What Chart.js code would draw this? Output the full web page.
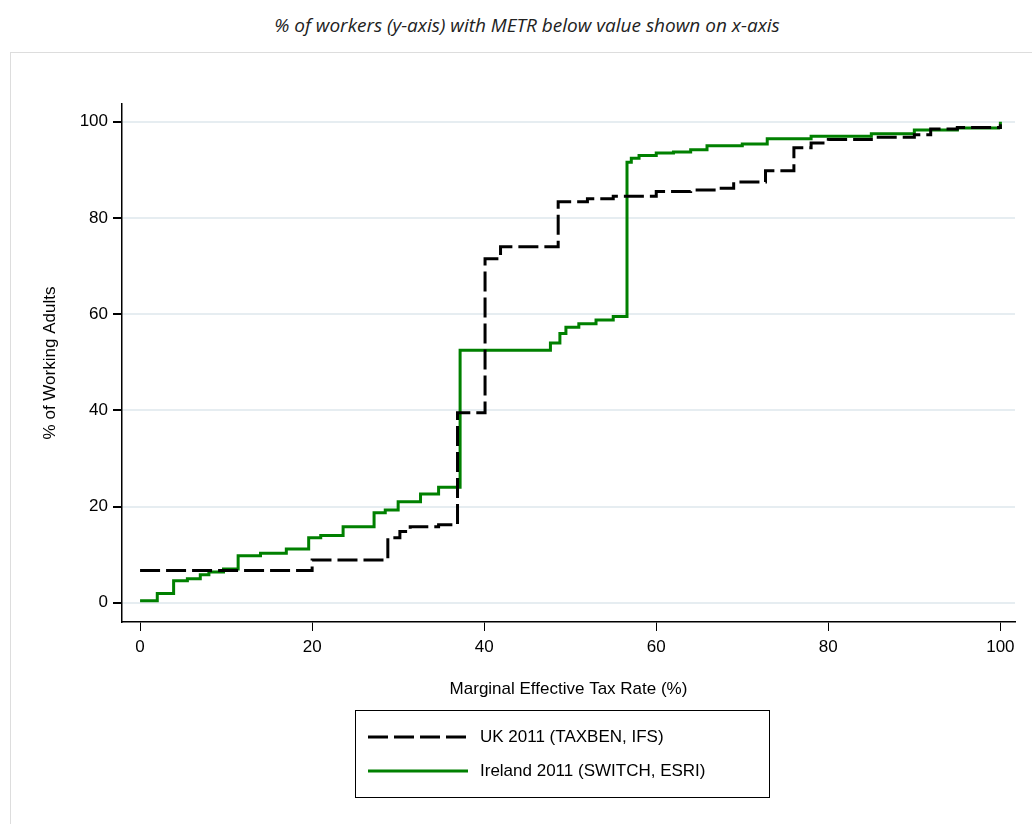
<!DOCTYPE html>
<html>
<head>
<meta charset="utf-8">
<script src="https://cdn.jsdelivr.net/npm/chart.js@4/dist/chart.umd.min.js"></script>
<style>
  body { margin: 0; background: #fff; font-family: "Liberation Sans", Arial, sans-serif; }
  #title { position: absolute; left: 0; width: 1054px; top: 12px; text-align: center;
           font-family: "Open Sans", sans-serif; font-style: italic; font-size: 19px; color: #222; }
  #frame { position: absolute; left: 10px; top: 52px; width: 1030px; height: 780px; border: 1px solid #ddd; }
  #wrap { position: absolute; left: 10px; top: 52px; width: 1022px; height: 660px; }
  #legend { position: absolute; left: 355px; top: 710px; width: 413px; height: 86px; border: 1px solid #000;
            font-size: 17px; color: #000; }
  .row { position: absolute; left: 12px; height: 20px; }
  .sw { position: absolute; left: 0; top: 4px; }
  .lbl { position: absolute; left: 112px; top: 0; white-space: nowrap; }
</style>
</head>
<body>
<div id="title">% of workers (y-axis) with METR below value shown on x-axis</div>
<div id="frame"></div>
<div id="wrap"><canvas id="c"></canvas></div>
<div id="legend">
  <div class="row" style="top:16px"><svg class="sw" width="100" height="12"><line x1="0" y1="6" x2="100" y2="6" stroke="#000" stroke-width="3" stroke-dasharray="20 6"/></svg><div class="lbl">UK 2011 (TAXBEN, IFS)</div></div>
  <div class="row" style="top:50px"><svg class="sw" width="100" height="12"><line x1="0" y1="6" x2="100" y2="6" stroke="#008000" stroke-width="3"/></svg><div class="lbl">Ireland 2011 (SWITCH, ESRI)</div></div>
</div>
<script>
// step points: x = METR where the cumulative share jumps, y = new share
const ukX = [0, 20, 28.8, 30.2, 31.4, 34.7, 36.9, 40.1, 41.9, 48.6, 52, 55, 60, 64, 67, 69, 72.7, 76, 78, 80, 85, 90, 91.9, 95, 100];
const ukY = [6.7, 8.9, 13.5, 14.8, 15.8, 16.2, 39.5, 71.5, 74, 83.4, 84, 84.5, 85.5, 85.8, 86.2, 87.5, 89.8, 94.6, 95.6, 96.3, 96.8, 97.3, 98.5, 98.8, 99.5];
const ieX = [0, 2, 3.9, 5.5, 7, 8, 9.7, 11.4, 14, 17, 19.6, 21, 23.6, 27.2, 28.5, 30, 32.6, 34.7, 37.2, 47.7, 48.8, 49.5, 51, 53, 55, 56.6, 57.1, 58, 60, 62, 64, 65.9, 70, 72.9, 78, 85, 90, 95, 99.8, 100];
const ieY = [0.4, 1.9, 4.6, 5, 5.8, 6.4, 7, 9.8, 10.3, 11.2, 13.5, 14, 15.8, 18.7, 19.3, 21, 22.6, 24, 52.5, 54, 56, 57.3, 58, 58.8, 59.5, 91.6, 92.4, 93, 93.5, 93.7, 94.2, 95, 95.4, 96.5, 97, 97.5, 98.3, 98.7, 98.8, 100];
const xTicks = [0, 20, 40, 60, 80, 100];
const yTicks = [0, 20, 40, 60, 80, 100];

const pts = (xs, ys) => xs.map((x, i) => ({ x: x, y: ys[i] }));
const font = { family: '"Liberation Sans", Arial, sans-serif', size: 17 };

new Chart(document.getElementById('c'), {
  type: 'line',
  data: {
    datasets: [{
      label: 'UK 2011 (TAXBEN, IFS)',
      data: pts(ukX, ukY),
      borderColor: '#000', borderWidth: 3, borderDash: [20, 6],
      stepped: 'before', pointRadius: 0, fill: false,
    }, {
      label: 'Ireland 2011 (SWITCH, ESRI)',
      data: pts(ieX, ieY),
      borderColor: '#008000', borderWidth: 3,
      stepped: 'before', pointRadius: 0, fill: false,
    }],
  },
  options: {
    responsive: true, maintainAspectRatio: false, animation: false,
    layout: { padding: { top: 52, right: 17, left: 0, bottom: 8 } },
    plugins: { legend: { display: false }, tooltip: { enabled: false } },
    scales: {
      x: {
        type: 'linear', min: -2.1, max: 101.7,
        afterBuildTicks: s => { s.ticks = xTicks.map(v => ({ value: v })); },
        afterFit: s => { s.height = 82; },
        grid: { display: true, drawOnChartArea: false, drawTicks: true, tickLength: 9, color: '#000' },
        border: { color: '#000', width: 1.5 },
        ticks: { font: font, color: '#000', padding: 6, maxRotation: 0 },
        title: { display: true, text: 'Marginal Effective Tax Rate (%)', font: font, color: '#000', padding: { top: 0 } },
      },
      y: {
        min: -4, max: 103.7,
        afterBuildTicks: s => { s.ticks = yTicks.map(v => ({ value: v })); },
        afterFit: s => { s.width = 112; },
        grid: { color: '#e6edf1', lineWidth: 2, drawTicks: true, tickLength: 9,
                tickColor: '#000' },
        border: { color: '#000', width: 1.5 },
        ticks: { font: font, color: '#000', padding: 5 },
        title: { display: true, text: '% of Working Adults', font: font, color: '#000', padding: { top: 30, bottom: 0 } },
      },
    },
  },
});
</script>
</body>
</html>
